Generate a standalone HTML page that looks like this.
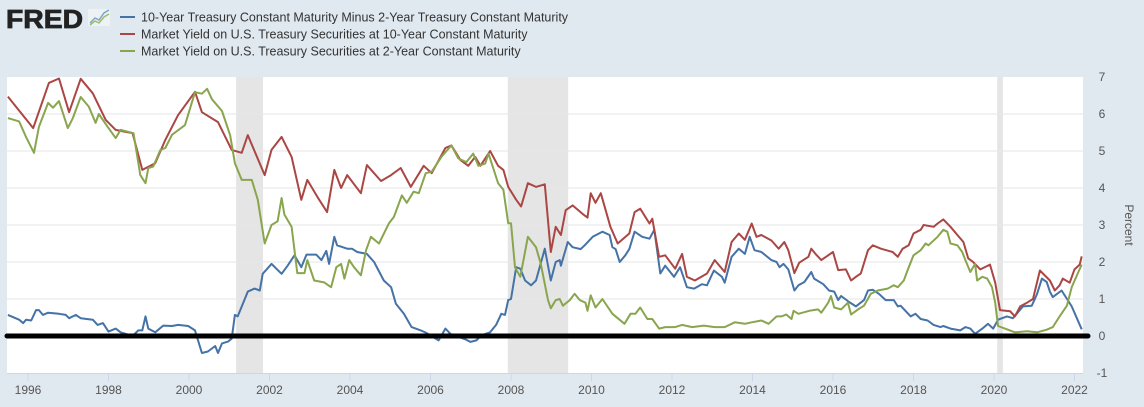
<!DOCTYPE html>
<html><head><meta charset="utf-8"><style>
body{margin:0;background:#e1e9f0;font-family:"Liberation Sans",sans-serif;}
#wrap{position:relative;width:1144px;height:407px;overflow:hidden;background:#e1e9f0;}
</style></head><body>
<div id="wrap">
<svg id="chart" width="1144" height="407">
  <g>
    <text x="6" y="28" font-size="26" font-weight="bold" fill="#222" font-family="Liberation Sans, sans-serif" textLength="77" lengthAdjust="spacingAndGlyphs" stroke="#222" stroke-width="0.8">FRED</text>
    <rect x="88" y="9" width="22" height="17" fill="#eef2f5"/>
    <polyline points="90,23 95,18 99,20 104,13 109,10" fill="none" stroke="#7fa6c9" stroke-width="1.5"/>
    <polyline points="90,25 95,21 99,23 104,17 109,14" fill="none" stroke="#9bbf6b" stroke-width="1.5"/>
  </g>
  <g id="legend" font-size="12.5" fill="#333">
    <g>
      <line x1="120" y1="17" x2="135" y2="17" stroke="#4572a7" stroke-width="2"/>
      <text x="141" y="21.5">10-Year Treasury Constant Maturity Minus 2-Year Treasury Constant Maturity</text>
    </g>
    <g>
      <line x1="120" y1="34" x2="135" y2="34" stroke="#aa4643" stroke-width="2"/>
      <text x="141" y="38.5">Market Yield on U.S. Treasury Securities at 10-Year Constant Maturity</text>
    </g>
    <g>
      <line x1="120" y1="51" x2="135" y2="51" stroke="#89a54e" stroke-width="2"/>
      <text x="141" y="55.5">Market Yield on U.S. Treasury Securities at 2-Year Constant Maturity</text>
    </g>
  </g>
  <rect x="7" y="77" width="1076" height="296" fill="#fff"/>
  <g id="recessions"></g>
  <g id="grid"></g>
  <g id="series"></g>
  <g id="axes"></g>
  <text x="1125" y="225" font-size="12" fill="#555" transform="rotate(90 1125 225)" text-anchor="middle">Percent</text>
</svg>
</div>
<script>
const xTicks=[1996,1998,2000,2002,2004,2006,2008,2010,2012,2014,2016,2018,2020,2022];
const yTicks=[-1,0,1,2,3,4,5,6,7];
const recessionStart=[2001.17,2007.92,2020.08];
const recessionEnd=[2001.84,2009.42,2020.22];

const spreadDates=[1995.5,1995.78,1995.88,1995.95,1996.08,1996.2,1996.27,1996.37,1996.5,1996.77,1996.94,1997.02,1997.19,1997.31,1997.61,1997.73,1997.86,1998.0,1998.18,1998.3,1998.6,1998.74,1998.84,1998.92,1998.99,1999.16,1999.36,1999.58,1999.73,1999.98,2000.15,2000.32,2000.47,2000.65,2000.72,2000.82,2000.97,2001.06,2001.14,2001.21,2001.46,2001.63,2001.76,2001.83,2002.05,2002.3,2002.45,2002.62,2002.79,2002.92,2003.16,2003.29,2003.41,2003.48,2003.61,2003.68,2003.93,2004.05,2004.18,2004.42,2004.6,2004.84,2005.02,2005.14,2005.34,2005.53,2005.76,2005.9,2006.2,2006.37,2006.5,2006.89,2006.99,2007.14,2007.26,2007.48,2007.63,2007.76,2007.85,2007.93,2008.0,2008.13,2008.23,2008.35,2008.5,2008.62,2008.84,2008.99,2009.11,2009.21,2009.24,2009.41,2009.53,2009.73,2009.83,2010.03,2010.27,2010.45,2010.52,2010.6,2010.7,2010.84,2010.94,2011.07,2011.26,2011.44,2011.56,2011.71,2011.83,2012.05,2012.2,2012.37,2012.55,2012.74,2012.87,2013.04,2013.24,2013.31,2013.48,2013.66,2013.81,2013.93,2014.05,2014.22,2014.47,2014.6,2014.67,2014.77,2014.89,2015.04,2015.14,2015.29,2015.46,2015.53,2015.76,2015.9,2016.03,2016.13,2016.2,2016.4,2016.57,2016.77,2016.87,2016.99,2017.14,2017.31,2017.51,2017.61,2017.68,2017.93,2018.05,2018.18,2018.35,2018.5,2018.67,2018.74,2018.92,2019.16,2019.29,2019.41,2019.53,2019.71,2019.85,2019.98,2020.1,2020.32,2020.47,2020.72,2020.94,2021.07,2021.19,2021.31,2021.39,2021.46,2021.68,2021.93,2022.18];
const spreadValues=[0.57,0.44,0.35,0.44,0.42,0.7,0.7,0.57,0.63,0.6,0.57,0.48,0.57,0.48,0.44,0.3,0.35,0.12,0.2,0.1,0.0,0.15,0.15,0.53,0.2,0.1,0.28,0.27,0.3,0.27,0.15,-0.46,-0.42,-0.27,-0.46,-0.2,-0.15,-0.07,0.57,0.53,1.2,1.28,1.23,1.68,1.95,1.68,1.9,2.18,1.86,2.2,2.2,2.05,2.3,1.95,2.68,2.45,2.36,2.36,2.27,2.22,2.0,1.5,1.32,0.87,0.6,0.24,0.15,0.08,-0.12,0.2,0.05,-0.1,-0.16,-0.12,0.02,0.1,0.3,0.6,0.57,0.97,1.0,1.86,1.82,1.5,1.37,1.5,2.36,1.5,2.0,2.05,1.9,2.54,2.4,2.35,2.45,2.68,2.82,2.73,2.4,2.35,2.0,2.18,2.35,2.82,2.68,2.63,2.87,1.69,1.9,1.6,1.86,1.32,1.28,1.4,1.37,1.77,1.6,1.44,2.14,2.36,2.22,2.68,2.32,2.27,2.05,2.0,1.86,1.95,1.8,1.23,1.37,1.46,1.73,1.55,1.4,1.23,1.2,0.97,1.08,0.92,0.8,0.97,1.23,1.25,1.14,0.97,0.97,0.8,0.82,0.53,0.6,0.46,0.42,0.3,0.24,0.27,0.2,0.15,0.24,0.2,0.06,0.2,0.33,0.2,0.44,0.53,0.48,0.8,0.82,1.14,1.55,1.46,1.2,1.05,1.23,0.8,0.18];

const tenDates=[1995.5,1996.13,1996.52,1996.77,1997.02,1997.31,1997.61,1997.93,1998.18,1998.6,1998.84,1999.16,1999.41,1999.73,2000.15,2000.32,2000.72,2001.06,2001.31,2001.46,2001.88,2002.05,2002.3,2002.55,2002.79,2002.94,2003.19,2003.43,2003.61,2003.78,2003.93,2004.27,2004.42,2004.77,2005.02,2005.26,2005.51,2005.83,2006.03,2006.37,2006.52,2006.74,2006.94,2007.11,2007.24,2007.48,2007.68,2007.81,2007.93,2008.13,2008.25,2008.42,2008.62,2008.84,2008.99,2009.11,2009.24,2009.36,2009.53,2009.78,2009.9,2009.98,2010.1,2010.23,2010.47,2010.65,2010.94,2011.07,2011.21,2011.44,2011.51,2011.68,2011.83,2012.08,2012.25,2012.37,2012.57,2012.87,2013.06,2013.31,2013.48,2013.66,2013.81,2013.98,2014.1,2014.22,2014.47,2014.65,2014.79,2014.89,2015.04,2015.16,2015.39,2015.46,2015.58,2015.71,2016.0,2016.13,2016.32,2016.45,2016.57,2016.69,2016.87,2016.99,2017.19,2017.48,2017.61,2017.73,2017.88,2018.0,2018.18,2018.25,2018.5,2018.6,2018.74,2018.92,2019.09,2019.24,2019.36,2019.48,2019.66,2019.9,2020.03,2020.15,2020.4,2020.52,2020.65,2020.82,2020.97,2021.14,2021.39,2021.51,2021.63,2021.71,2021.88,2022.0,2022.13,2022.18];
const tenValues=[6.47,5.62,6.84,6.96,6.05,6.95,6.56,5.84,5.57,5.48,4.49,4.67,5.3,5.97,6.6,6.05,5.78,5.03,4.95,5.43,4.35,5.03,5.38,4.84,3.68,4.22,3.76,3.35,4.49,4.0,4.35,3.86,4.62,4.19,4.35,4.54,4.03,4.6,4.4,5.08,5.15,4.76,4.6,4.84,4.6,5.0,4.6,4.49,4.03,3.68,3.5,4.13,4.03,4.1,2.27,2.95,2.73,3.4,3.53,3.3,3.2,3.86,3.6,3.86,2.95,2.5,2.77,3.35,3.44,3.04,3.17,2.14,2.18,1.82,2.22,1.6,1.5,1.69,2.05,1.73,2.54,2.77,2.6,3.04,2.68,2.73,2.58,2.36,2.54,2.32,1.7,1.98,2.14,2.36,2.2,2.05,2.27,1.78,1.8,1.5,1.6,1.69,2.32,2.45,2.36,2.27,2.14,2.36,2.45,2.77,2.87,3.0,2.95,3.04,3.15,2.95,2.73,2.54,2.1,2.0,1.8,1.93,1.44,0.7,0.67,0.53,0.8,0.9,1.0,1.77,1.5,1.23,1.37,1.55,1.44,1.8,1.93,2.15];

const twoDates=[1995.5,1995.78,1995.95,1996.15,1996.27,1996.5,1996.62,1996.77,1996.99,1997.11,1997.31,1997.51,1997.68,1997.76,1997.98,1998.18,1998.3,1998.62,1998.79,1998.92,1998.99,1999.11,1999.29,1999.41,1999.58,1999.9,2000.15,2000.32,2000.45,2000.57,2000.82,2001.02,2001.14,2001.31,2001.56,2001.71,2001.88,2002.05,2002.2,2002.3,2002.37,2002.55,2002.69,2002.87,2002.94,2003.11,2003.36,2003.53,2003.66,2003.78,2003.86,2003.98,2004.1,2004.27,2004.4,2004.52,2004.72,2004.97,2005.09,2005.29,2005.41,2005.58,2005.71,2005.88,2006.03,2006.27,2006.52,2006.69,2006.89,2007.06,2007.19,2007.36,2007.44,2007.68,2007.81,2007.93,2008.0,2008.1,2008.23,2008.42,2008.62,2008.74,2008.92,2008.99,2009.11,2009.21,2009.29,2009.46,2009.58,2009.71,2009.85,2009.9,2009.98,2010.1,2010.27,2010.52,2010.82,2010.97,2011.09,2011.21,2011.39,2011.51,2011.68,2011.83,2012.08,2012.25,2012.5,2012.79,2013.06,2013.31,2013.56,2013.81,2013.98,2014.22,2014.4,2014.6,2014.72,2014.84,2014.97,2015.02,2015.14,2015.41,2015.63,2015.71,2015.88,2015.95,2016.03,2016.2,2016.37,2016.45,2016.62,2016.77,2016.94,2017.11,2017.36,2017.51,2017.61,2017.76,2017.85,2018.0,2018.18,2018.3,2018.37,2018.6,2018.74,2018.84,2018.92,2019.09,2019.21,2019.29,2019.41,2019.53,2019.58,2019.71,2019.83,2019.95,2020.03,2020.1,2020.27,2020.52,2020.82,2021.07,2021.31,2021.46,2021.63,2021.81,2021.93,2022.08,2022.18];
const twoValues=[5.89,5.8,5.38,4.95,5.65,6.3,6.17,6.35,5.62,5.88,6.46,6.2,5.76,6.0,5.65,5.35,5.57,5.48,4.35,4.13,4.54,4.58,5.03,5.08,5.44,5.7,6.59,6.55,6.68,6.4,6.08,5.43,4.67,4.22,4.22,3.68,2.5,3.0,3.1,3.73,3.28,2.95,1.7,1.7,2.05,1.5,1.45,1.32,1.86,1.95,1.55,2.05,1.86,1.64,2.32,2.68,2.5,3.05,3.22,3.8,3.6,3.9,3.86,4.4,4.44,4.84,5.15,4.8,4.7,4.93,4.6,4.66,4.93,4.13,3.95,3.05,3.05,1.86,1.6,2.68,2.4,1.95,0.97,0.75,0.97,1.0,0.82,0.97,1.14,0.97,0.9,0.68,1.1,0.77,1.0,0.6,0.33,0.6,0.6,0.77,0.46,0.46,0.2,0.24,0.24,0.3,0.24,0.28,0.24,0.24,0.37,0.33,0.37,0.42,0.33,0.53,0.53,0.58,0.46,0.68,0.6,0.68,0.72,0.63,0.9,1.08,0.77,0.72,0.9,0.58,0.72,0.82,1.14,1.23,1.28,1.37,1.32,1.5,1.77,2.18,2.32,2.5,2.45,2.68,2.87,2.82,2.5,2.45,2.27,2.05,1.73,1.95,1.5,1.6,1.55,1.32,0.9,0.27,0.2,0.1,0.13,0.1,0.17,0.24,0.53,0.82,1.32,1.69,1.93];

const NS='http://www.w3.org/2000/svg';
const X0=7,X1=1083,Y0=77,Y1=373;
function xs(yr){return 28+(yr-1996)*40.25;}
function ys(v){return 336-v*37;}
function mk(tag,attrs,parent){const e=document.createElementNS(NS,tag);for(const k in attrs)e.setAttribute(k,attrs[k]);parent.appendChild(e);return e;}

const rec=document.getElementById('recessions');
recessionStart.forEach((s,i)=>{
  const r=mk('rect',{x:xs(s),y:Y0,width:xs(recessionEnd[i])-xs(s),height:Y1-Y0,fill:'#e5e5e5'},rec);
  
  
});
const grid=document.getElementById('grid');
const axes=document.getElementById('axes');
yTicks.forEach(v=>{
  if(v>-1&&v<7){const l=mk('line',{x1:X0,x2:X1,y1:ys(v),y2:ys(v),stroke:'#e6e6e6','stroke-width':1},grid);
  
  }
  const t=mk('text',{x:1102,y:ys(v)+4,'font-size':12,fill:'#555','text-anchor':'middle'},axes);
  t.textContent=v;
  
  
});
mk('line',{x1:X0,x2:X1,y1:Y1+0.5,y2:Y1+0.5,stroke:'#ccd6eb','stroke-width':1},axes);
xTicks.forEach(yr=>{
  const x=xs(yr);
  const tk=mk('line',{x1:x,x2:x,y1:Y1,y2:Y1+8,stroke:'#ccd6eb','stroke-width':1},axes);
  
  
  const t=mk('text',{x:x,y:394,'font-size':12,fill:'#555','text-anchor':'middle'},axes);
  t.textContent=yr;
  
  
});
const ser=document.getElementById('series');
function line(dates,vals,color,name){
  const pts=dates.map((d,i)=>xs(d).toFixed(1)+','+ys(vals[i]).toFixed(1)).join(' ');
  const p=mk('polyline',{points:pts,fill:'none',stroke:color,'stroke-width':2,'stroke-linejoin':'round'},ser);
  
  
}
line(spreadDates,spreadValues,'#4572a7','series-spread-line');
line(tenDates,tenValues,'#aa4643','series-10y-line');
line(twoDates,twoValues,'#89a54e','series-2y-line');
const zl=mk('line',{x1:X0,x2:1088,y1:ys(0),y2:ys(0),stroke:'#000','stroke-width':5,'stroke-linecap':'round'},ser);


</script>
</body></html>
